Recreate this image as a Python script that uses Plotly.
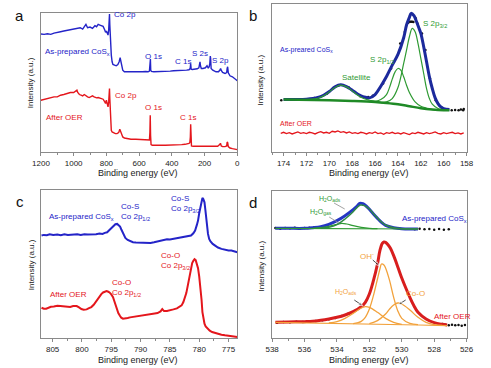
import plotly.graph_objects as go

W, H = 491, 368
FONT = "Arial, Liberation Sans, sans-serif"
BLUE = "#2424c8"
RED = "#e4161c"
GREEN = "#2f9a33"
DGREEN = "#1f8a26"
NAVY = "#1c2a9c"
ORANGE = "#f2a23c"
BLACK = "#111111"

# ---------------- Panel a: survey spectra ----------------
a_energy_blue = [1200, 1180, 1160, 1140, 1120, 1100, 1080, 1060, 1040, 1020, 1000, 980, 960, 945, 935, 925, 915, 900,
                 885, 870, 860, 850, 840, 830, 820, 810, 805, 800, 795, 790, 786, 783, 781, 779, 777, 774, 770, 765,
                 760, 750, 740, 730, 722, 716, 712, 708, 700, 690, 680, 660, 640, 620, 600, 580, 560, 545, 537, 533,
                 531, 529, 525, 510, 490, 470, 450, 430, 410, 390, 370, 350, 330, 310, 295, 288, 285, 282, 275, 260,
                 245, 235, 230, 228, 225, 220, 210, 195, 185, 178, 172, 168, 165, 163, 160, 150, 130, 115, 105, 102,
                 98, 90, 75, 65, 62, 59, 55, 45, 30, 15, 5, 0]
a_int_blue = [353, 352, 354, 352, 356, 357, 360, 362, 364, 365, 368, 370, 372, 368, 375, 382, 372, 374,
              370, 378, 375, 382, 380, 378, 376, 365, 358, 362, 352, 350, 365, 400, 413, 380, 340, 300, 290, 270,
              262, 260, 258, 262, 270, 282, 270, 258, 245, 240, 240, 239, 238, 240, 239, 240, 241, 240, 242, 275,
              278, 245, 241, 240, 240, 241, 241, 242, 242, 243, 243, 244, 244, 245, 246, 250, 265, 248, 247, 248,
              249, 252, 262, 270, 258, 250, 250, 252, 258, 252, 255, 265, 287, 280, 250, 245, 240, 240, 246, 250,
              244, 238, 235, 238, 250, 255, 237, 228, 225, 220, 215, 213]

a_energy_red = [1200, 1180, 1160, 1140, 1120, 1100, 1080, 1060, 1040, 1020, 1000, 990, 980, 975, 965, 955, 945, 935,
                925, 915, 905, 895, 885, 875, 860, 850, 840, 830, 820, 810, 805, 800, 795, 790, 786, 783, 781, 779,
                777, 774, 770, 765, 755, 745, 735, 725, 718, 714, 708, 700, 690, 670, 650, 620, 600, 580, 560, 545,
                537, 534, 532, 530, 527, 520, 500, 480, 460, 440, 420, 400, 380, 360, 340, 320, 305, 295, 290, 287,
                285, 283, 280, 270, 250, 230, 200, 170, 150, 120, 108, 103, 98, 90, 75, 65, 62, 59, 55, 45, 30, 15,
                5, 0]
a_int_red = [155, 158, 160, 162, 165, 165, 170, 172, 175, 178, 178, 182, 185, 178, 172, 170, 168, 172,
             168, 165, 163, 165, 168, 165, 162, 163, 162, 160, 158, 150, 145, 155, 140, 135, 150, 185, 190, 160,
             120, 85, 65, 60, 57, 55, 55, 58, 68, 62, 52, 45, 42, 40, 38, 38, 37, 36, 36, 36,
             36, 60, 110, 50, 22, 20, 20, 19, 20, 20, 20, 21, 21, 22, 22, 23, 24, 26, 28, 45,
             83, 40, 18, 17, 17, 16, 16, 16, 16, 17, 22, 26, 18, 16, 16, 18, 30, 28, 16, 12, 10, 9,
             8, 7]

# ---------------- Panel b: S 2p ----------------
b_env_energy = [174, 173, 172, 171, 170.5, 170, 169.5, 169, 168.5, 168, 167.5, 167, 166.5, 166, 165.5, 165, 164.5,
                164, 163.5, 163.25, 163, 162.85, 162.6, 162.4, 162.2, 162, 161.75, 161.5, 161.25, 161, 160.75,
                160.5, 160.25, 160, 159.5]
b_env_int = [157, 157, 158, 163, 170, 181, 195, 201, 196, 185, 173, 165, 162, 172, 197, 226, 260,
             292, 342, 380, 403, 415, 408, 392, 374, 355, 315, 270, 225, 190, 162,
             145, 135, 130, 127]
b_bg_energy = [174, 170, 168, 166, 165, 164, 163, 162, 161, 160, 159.5]
b_bg_int = [157, 155, 153, 150, 147, 143, 137, 131, 127, 125, 125]
b_p32_energy = [165.5, 165, 164.5, 164, 163.5, 163.25, 163, 162.75, 162.5, 162.25, 162, 161.75, 161.5, 161.25, 161,
                160.5, 160]
b_p32_int = [148, 150, 160, 193, 265, 305, 345, 370, 360, 325, 280, 235, 190, 160, 143, 130, 126]
b_p12_energy = [166.5, 166, 165.5, 165, 164.75, 164.5, 164.25, 164, 163.75, 163.5, 163.25, 163, 162.5, 162, 161.5,
                161, 160.5]
b_p12_int = [151, 152, 157, 172, 192, 218, 240, 250, 245, 225, 200, 178, 150, 137, 131, 127, 125]
b_sat_energy = [172, 171.5, 171, 170.5, 170, 169.5, 169, 168.5, 168, 167.5, 167, 166.5, 166, 165.5]
b_sat_int = [157, 158, 161, 168, 180, 193, 200, 195, 183, 170, 160, 155, 152, 149]
b_dot_energy = [174.2, 173.5, 172.7, 171.3, 170.2, 169.2, 168.3, 167.3, 166.6, 166.2, 165.3, 164.6, 163.8, 163.4,
                163.1, 162.95, 162.85, 162.75, 162.65, 162.45, 162.3, 161.9, 161.6, 161.2, 160.7, 160.2, 159.7,
                159.3, 159.0, 158.7, 158.5, 158.3, 158.25]
b_dot_int = [155, 158, 157, 162, 175, 199, 193, 167, 165, 168, 205, 250, 325, 359,
             387, 390, 390, 390, 389, 400, 385, 355, 305, 220, 155, 133, 127,
             125, 126, 125, 127, 125, 129]
b_red_energy = [round(174.25 - 0.25 * i, 2) for i in range(65)]
b_red_int = [56, 59, 55, 58, 54, 57, 60, 56, 58, 55,
             59, 57, 54, 58, 61, 57, 59, 56, 62, 60,
             63, 59, 61, 57, 60, 56, 58, 55, 59, 57,
             54, 58, 56, 60, 55, 57, 53, 58, 56, 59,
             55, 57, 54, 58, 56, 52, 57, 55, 59, 56,
             54, 58, 55, 57, 60, 56, 54, 58, 55, 57,
             59, 55, 57, 54, 57]

# ---------------- Panel c: Co 2p ----------------
c_energy_blue = [806.9, 806.5, 806.0, 805.5, 804.9, 804.2, 803.6, 803.0, 802.4, 801.8, 801.4, 800.8, 800.2, 799.6,
                 799.0, 798.7, 798.2, 797.6, 797.0, 796.5, 796.1, 795.7, 795.4, 795.1, 794.8, 794.6, 794.3, 794.0,
                 793.7, 793.5, 793.3, 793.1, 792.9, 792.6, 792.2, 791.8, 791.3, 790.8, 790.4, 789.9, 789.4, 788.8,
                 788.3, 787.7, 787.1, 786.6, 786.0, 785.5, 785.0, 784.4, 783.8, 783.2, 782.5, 782.0, 781.4, 781.0,
                 780.7, 780.4, 780.2, 780.0, 779.8, 779.6, 779.45, 779.3, 779.1, 778.95, 778.8, 778.65, 778.5,
                 778.3, 778.1, 777.7, 777.3, 776.8, 776.2, 775.6, 775.0, 774.5, 774.0, 773.5]
c_int_blue = [308, 310, 309, 312, 310, 311, 309, 312, 310, 311, 310, 312, 310, 312,
              311, 311, 313, 312, 314, 313, 316, 318, 323, 328, 334, 338, 342, 343,
              339, 335, 327, 318, 309, 301, 295, 291, 288, 287, 287, 286, 285, 285,
              286, 288, 290, 292, 296, 297, 296, 298, 299, 300, 303, 305, 308, 315,
              323, 340, 353, 375, 393, 412, 421, 418, 408, 385, 358, 333, 313,
              298, 291, 283, 278, 272, 268, 265, 263, 263, 260, 258]
c_energy_red = [806.9, 806.5, 806.1, 805.7, 805.3, 804.8, 804.2, 803.7, 803.1, 802.6, 802.0, 801.5, 800.9, 800.5,
                800.1, 799.7, 799.2, 798.8, 798.4, 798.0, 797.7, 797.3, 797.0, 796.7, 796.4, 796.1, 795.8, 795.5,
                795.3, 795.0, 794.7, 794.5, 794.3, 794.0, 793.8, 793.5, 793.3, 793.0, 792.6, 792.2, 791.8, 791.5,
                791.0, 790.4, 789.9, 789.3, 788.8, 788.2, 787.6, 787.1, 786.6, 786.3, 786.0, 785.5, 784.9, 784.4,
                783.8, 783.4, 783.0, 782.7, 782.5, 782.2, 782.0, 781.8, 781.6, 781.4, 781.2, 781.0, 780.8, 780.6,
                780.4, 780.2, 780.0, 779.8, 779.6, 779.45, 779.3, 779.1, 778.9, 778.6, 778.2, 777.8, 777.3, 776.7,
                776.2, 775.6, 775.0, 774.5, 774.0, 773.5]
c_int_red = [91, 88, 88, 92, 94, 95, 97, 96, 95, 93, 93, 96, 96, 92,
             87, 85, 86, 90, 93, 100, 108, 117, 125, 132, 137, 140, 141, 139,
             137, 131, 123, 112, 101, 87, 75, 66, 61, 58, 58, 60, 62, 63,
             64, 65, 67, 70, 71, 73, 74, 75, 80, 87, 81, 81, 83, 86,
             89, 93, 98, 108, 118, 135, 153, 173, 193, 212, 225, 232, 237, 234,
             225, 210, 185, 155, 115, 78, 55, 43, 35, 28, 22, 18, 15, 12,
             10, 8, 6, 5, 4, 3]

# ---------------- Panel d: O 1s ----------------
d_benv_energy = [537.8, 537, 536, 535.5, 535, 534.5, 534, 533.5, 533, 532.75, 532.6, 532.4, 532.2, 532, 531.75,
                 531.5, 531.25, 531, 530.5, 530, 529.5, 529]
d_benv_int = [329, 329, 329, 331, 334, 341, 352, 367, 385, 396, 404, 403, 396, 386, 372,
              359, 347, 338, 331, 328, 327, 327]
d_ads_energy = [535, 534.5, 534, 533.5, 533, 532.75, 532.55, 532.3, 532, 531.75, 531.5, 531.25, 531, 530.5, 530,
                529.5, 529]
d_ads_int = [329, 332, 340, 357, 379, 392, 399, 397, 387, 373, 360, 348, 339, 331, 328, 327, 327]
d_gas_energy = [535.5, 535, 534.5, 534, 533.7, 533.4, 533, 532.5, 532, 531.5]
d_gas_int = [329, 331, 335, 341, 344, 342, 337, 332, 329, 328]
d_gbg_energy = [537.8, 529]
d_gbg_int = [329, 327]
d_bdot_energy = [537.8, 537.5, 537.2, 536.9, 536.6, 536.3, 536.0, 535.7, 535.4, 529.2, 528.9, 528.6, 528.3, 528.0,
                 527.7, 527.4, 527.1]
d_bdot_int = [330, 328, 330, 329, 331, 328, 330, 331, 332, 326, 328, 326, 327, 325, 327, 325, 326]

d_renv_energy = [537.8, 537, 536, 535.5, 535, 534.5, 534, 533.5, 533, 532.5, 532.25, 532, 531.75, 531.5, 531.35,
                 531.2, 531.1, 531, 530.85, 530.7, 530.5, 530.25, 530, 529.75, 529.5, 529.25, 529, 528.5, 528,
                 527.5, 527.2]
d_renv_int = [47, 48, 49, 50, 53, 57, 62, 69, 79, 94, 107, 132, 172, 222, 262,
              284, 288, 287, 280, 269, 247, 214, 180, 150, 122, 97, 77, 57, 46,
              41, 39]
d_obg_energy = [537.8, 535, 533, 531, 529, 527.2]
d_obg_int = [47, 45, 43, 41, 39, 37]
d_oh_energy = [533, 532.5, 532.25, 532, 531.75, 531.5, 531.35, 531.25, 531.1, 531, 530.75, 530.5, 530.25, 530,
               529.5, 529]
d_oh_int = [43, 50, 62, 87, 127, 177, 207, 222, 219, 210, 172, 122, 82, 59, 44, 40]
d_wads_energy = [534.5, 534, 533.5, 533, 532.5, 532.25, 532, 531.5, 531, 530.5, 530]
d_wads_int = [45, 49, 59, 74, 90, 94, 92, 77, 59, 47, 41]
d_coo_energy = [532, 531.5, 531, 530.75, 530.5, 530.25, 530, 529.5, 529, 528.5, 528, 527.5]
d_coo_int = [43, 52, 72, 87, 99, 105, 102, 84, 62, 47, 40, 38]
d_rdot_energy = [537.7, 537.3, 536.9, 536.5, 536.1, 535.7, 535.3, 534.9, 534.5, 534.1, 533.7, 533.3, 532.9,
                 527.5, 527.3, 527.1, 526.9, 526.7, 526.5, 526.3, 526.1]
d_rdot_int = [46, 48, 47, 49, 48, 50, 51, 53, 56, 60, 66, 73, 81, 42, 40, 38, 40, 38, 39, 37, 39]

# label leader lines in panel d (tail -> head, in panel-d data units)
d_leaders = [
    ((534.18, 405), (533.52, 387), "#8a8a8a", False),
    ((534.48, 363), (533.88, 345), "#8a8a8a", False),
    ((531.79, 234), (531.37, 216), "#222222", True),
    ((532.93, 114), (532.39, 96), "#222222", True),
    ((529.76, 114), (530.24, 99), "#222222", True),
]

# ---------------- figure ----------------
fig = go.Figure()


def line(x, y, color, width, ax, shape="linear"):
    fig.add_trace(go.Scatter(x=x, y=y, mode="lines", line=dict(color=color, width=width, shape=shape),
                             xaxis="x" + ax, yaxis="y" + ax, showlegend=False, hoverinfo="skip"))


def dots(x, y, ax):
    fig.add_trace(go.Scatter(x=x, y=y, mode="markers", marker=dict(color=BLACK, size=2.5),
                             xaxis="x" + ax, yaxis="y" + ax, showlegend=False, hoverinfo="skip"))


# a
line(a_energy_blue, a_int_blue, BLUE, 1.4, "")
line(a_energy_red, a_int_red, RED, 1.4, "")
# b
line(b_red_energy, b_red_int, RED, 1.3, "2")
dots(b_dot_energy, b_dot_int, "2")
line(b_env_energy, b_env_int, NAVY, 3, "2", "spline")
line(b_sat_energy, b_sat_int, GREEN, 1.2, "2", "spline")
line(b_p12_energy, b_p12_int, GREEN, 1.2, "2", "spline")
line(b_p32_energy, b_p32_int, GREEN, 1.2, "2", "spline")
line(b_bg_energy, b_bg_int, DGREEN, 2.5, "2", "spline")
# c
line(c_energy_blue, c_int_blue, BLUE, 2, "3")
line(c_energy_red, c_int_red, RED, 2, "3")
# d
dots(d_bdot_energy, d_bdot_int, "4")
line(d_benv_energy, d_benv_int, "#2536c4", 3, "4", "spline")
line(d_gbg_energy, d_gbg_int, GREEN, 1.2, "4")
line(d_gas_energy, d_gas_int, GREEN, 1.2, "4", "spline")
line(d_ads_energy, d_ads_int, "#2f8a44", 1.5, "4", "spline")
dots(d_rdot_energy, d_rdot_int, "4")
line(d_renv_energy, d_renv_int, "#d81e1e", 3, "4", "spline")
line(d_obg_energy, d_obg_int, ORANGE, 1.2, "4")
line(d_wads_energy, d_wads_int, ORANGE, 1.3, "4", "spline")
line(d_coo_energy, d_coo_int, ORANGE, 1.3, "4", "spline")
line(d_oh_energy, d_oh_int, ORANGE, 1.3, "4", "spline")

for (tx, ty), (hx, hy), col, head in d_leaders:
    fig.add_trace(go.Scatter(
        x=[tx, hx], y=[ty, hy], mode="lines+markers" if head else "lines",
        line=dict(color=col, width=0.8),
        marker=dict(symbol=["circle", "arrow"], size=[0, 5], color=col, angleref="previous"),
        xaxis="x4", yaxis="y4", showlegend=False, hoverinfo="skip"))


def fx(x):
    return x / W


def fy(y):
    return 1 - y / H


def px(x0, x1):
    return [fx(x0), fx(x1)]


def py(top, bottom):
    return [fy(bottom), fy(top)]


axis_common = dict(showline=True, linecolor="#8a8a8a", linewidth=1, mirror=True, showgrid=False, zeroline=False)
xcommon = dict(axis_common, ticks="outside", ticklen=3, tickcolor="#8a8a8a",
               tickfont=dict(family=FONT, size=8, color="#222"))
ycommon = dict(axis_common, ticks="", showticklabels=False)

fig.update_layout(
    width=W, height=H, margin=dict(l=0, r=0, t=0, b=0),
    paper_bgcolor="white", plot_bgcolor="white", showlegend=False,
    xaxis=dict(xcommon, domain=px(33, 236), range=[1200, 0], dtick=200,
               minor=dict(dtick=100, ticklen=2, tickcolor="#8a8a8a", ticks="outside"), anchor="y"),
    yaxis=dict(ycommon, domain=py(13, 152), range=[0, 416], anchor="x"),
    xaxis2=dict(xcommon, domain=px(272, 473), range=[175, 158], dtick=2,
                minor=dict(dtick=1, ticklen=2, tickcolor="#8a8a8a", ticks="outside"), anchor="y2"),
    yaxis2=dict(ycommon, domain=py(4, 152), range=[0, 443], anchor="x2"),
    xaxis3=dict(xcommon, domain=px(33, 236), range=[807, 773.5], dtick=5,
                minor=dict(dtick=2.5, ticklen=2, tickcolor="#8a8a8a", ticks="outside"), anchor="y3"),
    yaxis3=dict(ycommon, domain=py(190, 338), range=[0, 445], anchor="x3"),
    xaxis4=dict(xcommon, domain=px(272, 473), range=[538, 526], dtick=2,
                minor=dict(dtick=1, ticklen=2, tickcolor="#8a8a8a", ticks="outside"), anchor="y4"),
    yaxis4=dict(ycommon, domain=py(191, 338), range=[0, 441], anchor="x4"),
)

ann = []


def label(text, x, y, color, size=8, xanchor="left", angle=0):
    ann.append(dict(text=text, x=fx(x), y=fy(y), xref="paper", yref="paper", xanchor=xanchor,
                    yanchor="middle", showarrow=False, align="left", textangle=angle,
                    font=dict(family=FONT, size=size, color=color)))


# panel letters
for t, x, y in [("a", 11, 16), ("b", 252, 15), ("c", 11, 201), ("d", 252, 202)]:
    label(t, x, y, "#111", 15, "center")
# axis titles
for x, y in [(133, 173), (372, 173), (133, 360), (372, 360)]:
    label("Binding energy (eV)", x, y, "#222", 9, "center")
for x, y in [(22, 83), (260, 80), (23, 265), (260, 266)]:
    label("Intensity (a.u.)", x, y, "#222", 8, "center", -90)

# panel a
label("Co 2p", 106, 14, BLUE)
label("As-prepared CoS<sub>x</sub>", 35, 52, BLUE)
label("O 1s", 139, 56, BLUE)
label("C 1s", 170, 62, BLUE)
label("S 2s", 187, 53, BLUE)
label("S 2p", 208, 60, BLUE)
label("Co 2p", 107, 95, RED)
label("O 1s", 138, 108, RED)
label("C 1s", 175, 117, RED)
label("After OER", 36, 117, RED)
# panel b
label("As-preared CoS<sub>x</sub>", 278, 50, BLUE, 7)
label("Satellite", 342, 78, GREEN)
label("S 2p<sub>1/2</sub>", 371, 60, GREEN)
label("S 2p<sub>3/2</sub>", 426, 24, GREEN)
label("After OER", 278, 123, RED, 7)
# panel c
label("As-prepared CoS<sub>x</sub>", 39, 217, BLUE)
label("Co-S<br>Co 2p<sub>1/2</sub>", 114, 212, BLUE)
label("Co-S<br>Co 2p<sub>3/2</sub>", 165, 204, BLUE)
label("Co-O<br>Co 2p<sub>3/2</sub>", 155, 261, RED)
label("Co-O<br>Co 2p<sub>1/2</sub>", 104, 288, RED)
label("After OER", 40, 294, RED)
# panel d
label("H<sub>2</sub>O<sub>ads</sub>", 318, 199, GREEN, 7)
label("H<sub>2</sub>O<sub>gas</sub>", 309, 212, GREEN, 7)
label("As-prepared CoS<sub>x</sub>", 404, 219, BLUE)
label("OH<sup>-</sup>", 361, 256, ORANGE)
label("H<sub>2</sub>O<sub>ads</sub>", 335, 292, ORANGE, 7)
label("Co-O", 408, 293, ORANGE)
label("After OER", 437, 316, RED)

fig.update_layout(annotations=ann)
fig.write_html("out.html", config={"displayModeBar": False},
               post_script="document.body.style.margin='0px';document.body.style.overflow='hidden';")
